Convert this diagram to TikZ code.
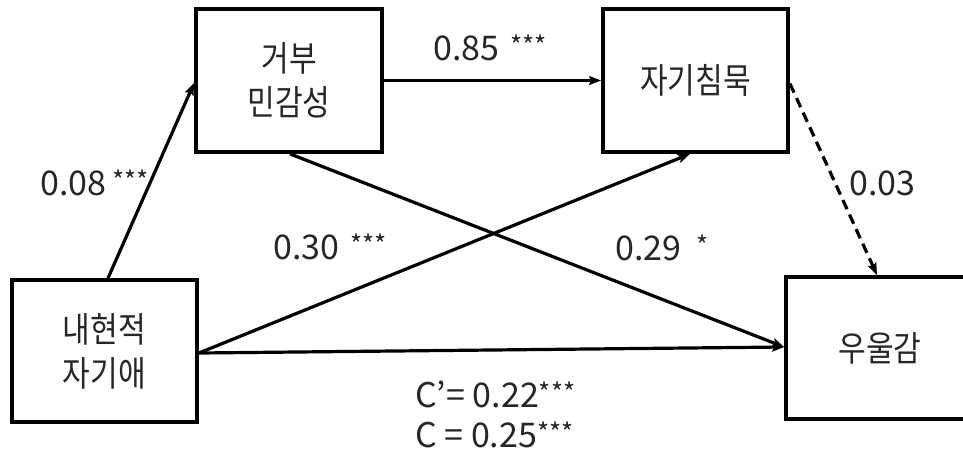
\documentclass[tikz,border=0pt]{standalone}
\usepackage{fontspec}
\newfontfamily\kr[FakeStretch=0.86]{Noto Sans CJK KR}
\newfontfamily\numf{Noto Sans CJK KR}
\usetikzlibrary{arrows.meta,calc}
\newcommand{\stars}[1]{\raisebox{5pt}{\fontsize{26}{26}\selectfont #1}}
\begin{document}
\begin{tikzpicture}[x=1pt,y=-1pt,
  boxnode/.style={draw=black,line width=3.8pt,minimum width=#1,inner sep=0pt,align=center,font=\kr\fontsize{35}{44}\selectfont,text=black!85},
  boxnode/.default=185pt,
  conn/.style={line width=3.2pt,-{Stealth[length=12pt,width=9pt,inset=2pt]}},
  dconn/.style={conn,dash pattern=on 10pt off 6pt},
  lbl/.style={anchor=base west,inner sep=0pt,font=\numf\fontsize{34}{40}\selectfont,text=black!85}]
\clip (0,0) rectangle (963,451);
\node[boxnode=185pt,minimum height=142pt] (X) at (104.5,351) {내현적\\자기애};
\node[boxnode=186pt,minimum height=143pt] (A) at (289,80.5) {거부\\민감성};
\node[boxnode=185pt,minimum height=143pt] (B) at (695.5,80.5) {자기침묵};
\node[boxnode=190pt,minimum height=142pt,text width=160pt] (Y) at (881,348) {\hspace*{-2pt}우울감};
\draw[conn] ([xshift=3.5pt]X.north) -- ([yshift=-2.5pt]A.west);
\draw[conn] (A.east) -- (B.west);
\draw[conn] ([xshift=1pt]A.south) -- ([yshift=1pt]Y.west);
\draw[conn] ([yshift=-2pt]X.east) -- ([xshift=-5.5pt]B.south);
\draw[conn] ([yshift=-2pt]X.east) -- ([yshift=1pt]Y.west);
\draw[dconn] ([yshift=-3pt]B.east) -- ([xshift=-4pt]Y.north);
\node[lbl] (l1) at (40,195) {0.08\hspace{6pt}\stars{***}};
\node[lbl] (l2) at (433,60) {0.85\hspace{11pt}\stars{***}};
\node[lbl] (l3) at (273,259) {0.30\hspace{11pt}\stars{***}};
\node[lbl] (l4) at (615,260) {0.29\hspace{15pt}\stars{*}};
\node[lbl] (l5) at (849,195) {0.03};
\node[lbl] (l6) at (415,407) {C’= 0.22\stars{***}};
\node[lbl] (l7) at (415,447) {C = 0.25\stars{***}};
\end{tikzpicture}
\end{document}
